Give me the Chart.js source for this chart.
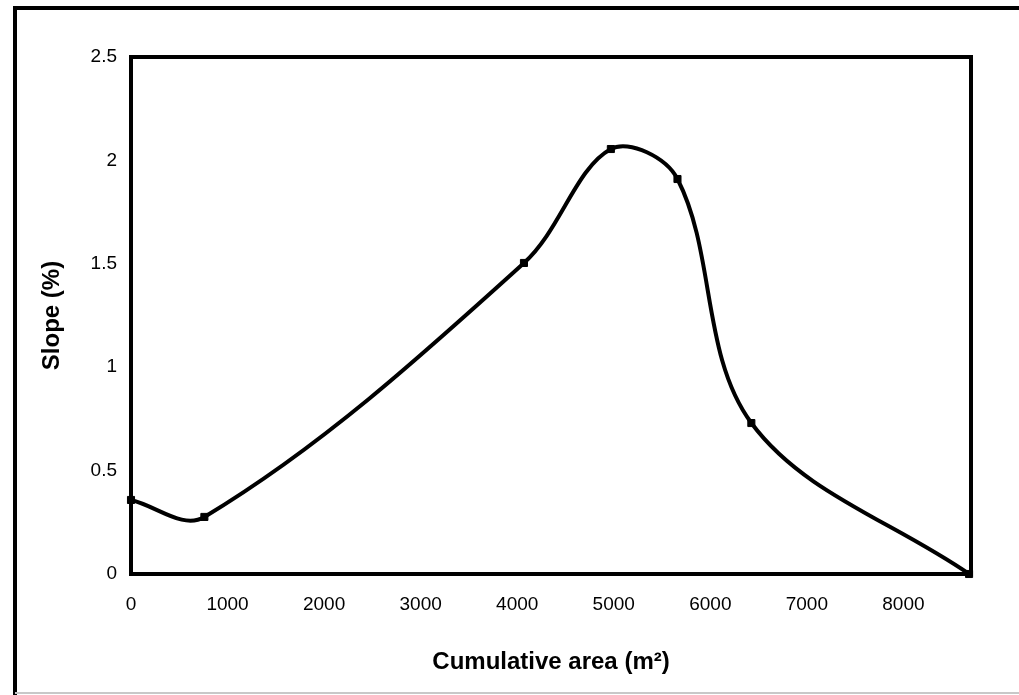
<!DOCTYPE html>
<html>
<head>
<meta charset="utf-8">
<script src="https://cdn.jsdelivr.net/npm/chart.js@4.4.1/dist/chart.umd.min.js"></script>
<style>
  html, body { margin: 0; padding: 0; background: #fff; }
  #wrap { position: relative; width: 1019px; height: 695px; }
</style>
</head>
<body>
<div id="wrap"><canvas id="slopeChart" width="1019" height="695"></canvas></div>
<script>
// values
const areaValues = [0, 760, 4070, 4970, 5660, 6425, 8680];
const slopeValues = [0.358, 0.276, 1.504, 2.055, 1.91, 0.73, 0];
const xTickValues = [0, 1000, 2000, 3000, 4000, 5000, 6000, 7000, 8000];
const yTickValues = [0, 0.5, 1, 1.5, 2, 2.5];
const xMax = 8700;
const yMax = 2.5;

const points = areaValues.map((a, i) => ({ x: a, y: slopeValues[i] }));

// frame around the whole figure and around the plot area
const framePlugin = {
    id: 'frames',
    beforeDraw(chart) {
        const ctx = chart.ctx;
        ctx.save();
        ctx.fillStyle = '#fff';
        ctx.fillRect(0, 0, chart.width, chart.height);
        ctx.strokeStyle = '#000';
        ctx.lineWidth = 4;
        ctx.beginPath();
        ctx.moveTo(15, 695);
        ctx.lineTo(15, 8);
        ctx.lineTo(1019, 8);
        ctx.stroke();
        ctx.strokeStyle = '#c8c8c8';
        ctx.lineWidth = 2;
        ctx.beginPath();
        ctx.moveTo(15, 693);
        ctx.lineTo(1019, 693);
        ctx.stroke();
        ctx.restore();
    },
    beforeDatasetsDraw(chart) {
        const a = chart.chartArea;
        const ctx = chart.ctx;
        ctx.save();
        ctx.strokeStyle = '#000';
        ctx.lineWidth = 4;
        ctx.strokeRect(a.left, a.top, a.right - a.left, a.bottom - a.top);
        ctx.restore();
    }
};

new Chart(document.getElementById('slopeChart').getContext('2d'), {
    type: 'line',
    data: {
        datasets: [{
            data: points,
            borderColor: '#000',
            backgroundColor: '#000',
            borderWidth: 4,
            tension: 0.35,
            pointStyle: 'rect',
            pointRadius: 5,
            pointBorderWidth: 1,
            pointBorderColor: '#000',
            pointBackgroundColor: '#000',
            clip: false,
            fill: false
        }]
    },
    options: {
        responsive: false,
        animation: false,
        events: [],
        layout: { padding: { left: 0, top: 57, right: 48, bottom: 0 } },
        plugins: {
            legend: { display: false },
            tooltip: { enabled: false }
        },
        scales: {
            x: {
                type: 'linear',
                min: 0,
                max: xMax,
                afterFit(scale) { scale.height = 121; },
                afterBuildTicks(scale) { scale.ticks = xTickValues.map(v => ({ value: v })); },
                grid: { display: false, drawTicks: false },
                border: { display: false },
                ticks: {
                    color: '#000',
                    padding: 19,
                    maxRotation: 0,
                    font: { family: 'Liberation Sans', size: 19 },
                    callback: v => String(v)
                },
                title: {
                    display: true,
                    text: 'Cumulative area (m²)',
                    color: '#000',
                    padding: { top: 0, bottom: 18 },
                    font: { family: 'Liberation Sans', size: 24, weight: 'bold' }
                }
            },
            y: {
                type: 'linear',
                min: 0,
                max: yMax,
                afterFit(scale) { scale.width = 131; },
                afterBuildTicks(scale) { scale.ticks = yTickValues.map(v => ({ value: v })); },
                grid: { display: false, drawTicks: false },
                border: { display: false },
                ticks: {
                    color: '#000',
                    padding: 14,
                    font: { family: 'Liberation Sans', size: 19 },
                    callback: v => String(v)
                },
                title: {
                    display: true,
                    text: 'Slope (%)',
                    color: '#000',
                    padding: { top: 38, bottom: 0 },
                    font: { family: 'Liberation Sans', size: 24, weight: 'bold' }
                }
            }
        }
    },
    plugins: [framePlugin]
});
</script>
</body>
</html>
